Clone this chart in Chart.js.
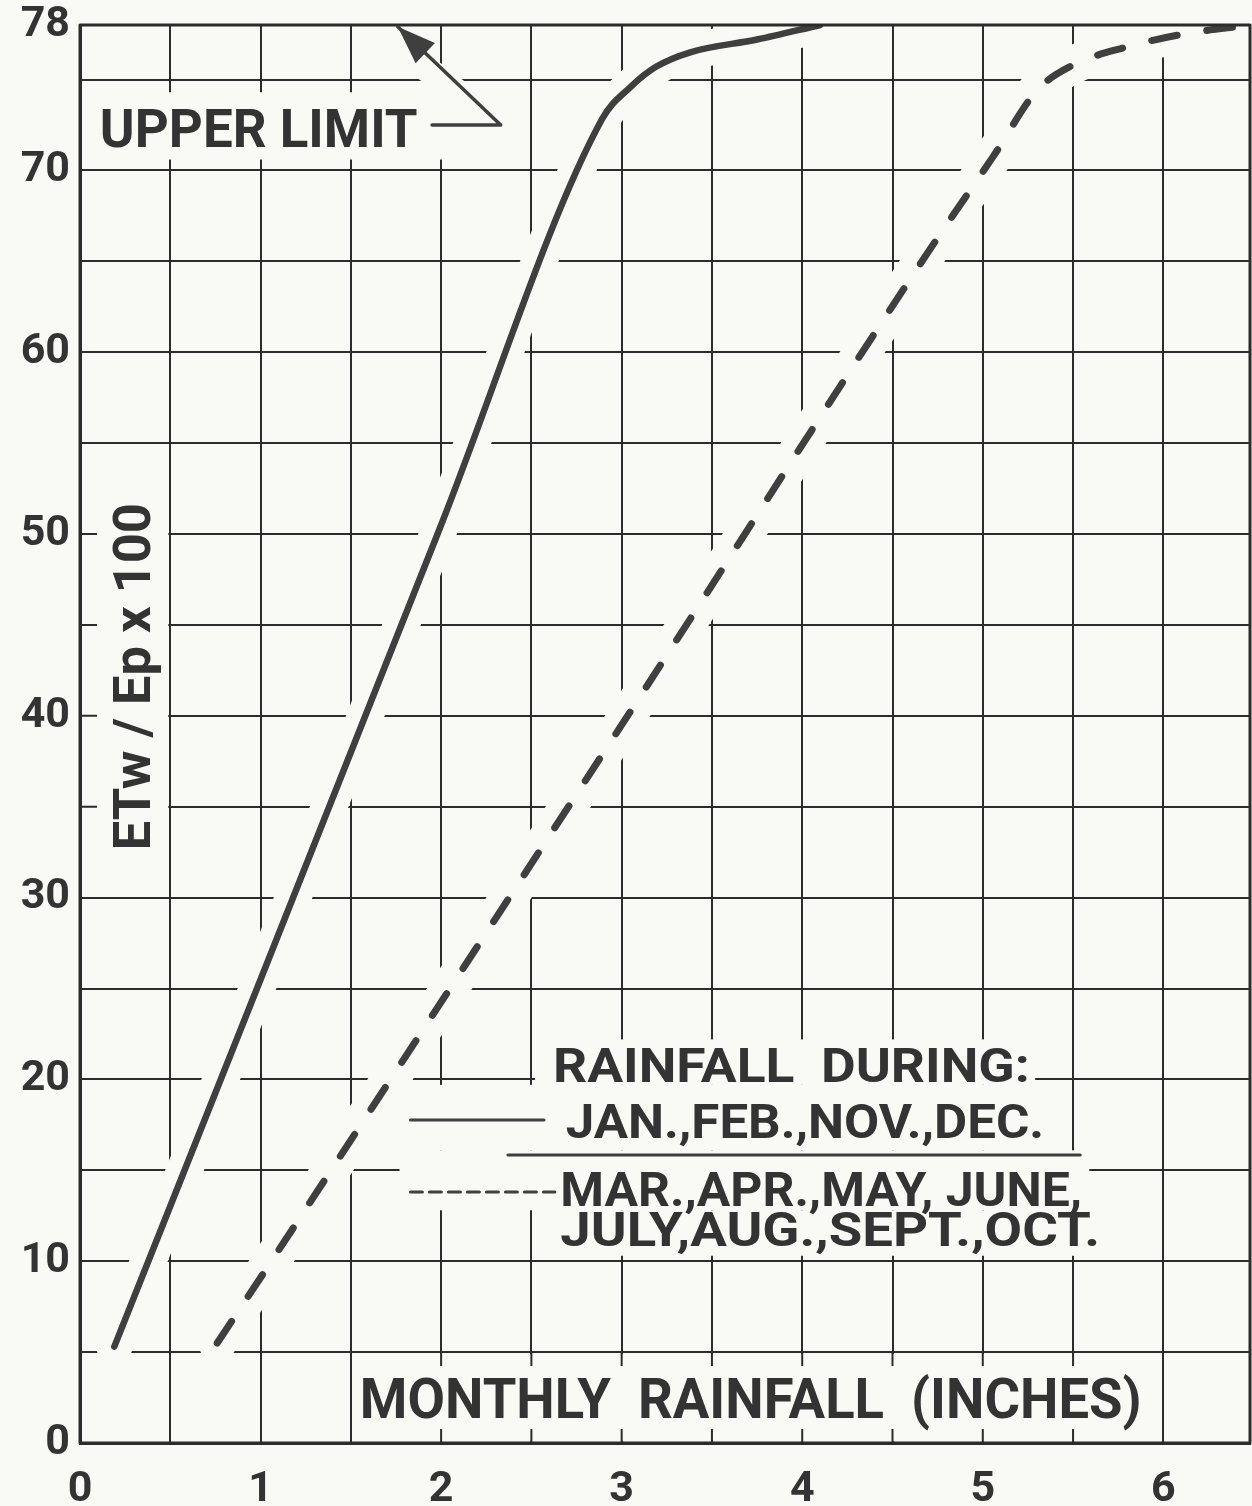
<!DOCTYPE html>
<html>
<head>
<meta charset="utf-8">
<title>ETw / Ep x 100 vs monthly rainfall</title>
<script src="https://cdn.jsdelivr.net/npm/chart.js@4.4.1/dist/chart.umd.min.js"></script>
<style>
  html, body { margin: 0; padding: 0; background: #f9f9f5; }
  #wrap { width: 1252px; height: 1506px; }
</style>
</head>
<body>
<div id="wrap"><canvas id="rainChart" width="1252" height="1506"></canvas></div>
<script>
// Jan, Feb, Nov, Dec curve (solid)
const winterRain = [0.19, 1.0, 2.0, 2.89, 3.05, 3.19, 3.38, 3.75, 4.1];
const winterRatio = [5.3, 25.5, 50.5, 72.8, 74.6, 75.7, 76.5, 77.2, 78];

// Mar - Oct curve (dashed)
const summerRain = [0.76, 1.06, 3.0, 4.71, 5.06, 5.3, 5.5, 5.8, 6.11, 6.48];
const summerRatio = [5.5, 10, 39.5, 65.7, 70.8, 74.4, 75.8, 76.8, 77.5, 78];

// axis ticks
const xTickValues = [0, 0.5, 1, 1.5, 2, 2.5, 3, 3.5, 4, 4.5, 5, 5.5, 6];
const xTickLabels = ['0', '', '1', '', '2', '', '3', '', '4', '', '5', '', '6'];
const yTickValues = [0, 5, 10, 15, 20, 25, 30, 35, 40, 45, 50, 55, 60, 65, 70, 75, 78];
const yTickLabels = ['0', '', '10', '', '20', '', '30', '', '40', '', '50', '', '60', '', '70', '', '78'];

const BG = '#f9f9f5';
const INK = '#2c2c2c';
const CURVE = '#3f3f3f';
const TEXT = '#333333';
const FAMILY = 'Roboto, "Liberation Sans", sans-serif';

// lettering on the sheet, placed in axis units (left, right, baseline)
const labels = [
  { text: 'UPPER LIMIT', x0: 0.11, x1: 1.87, y: 71.3, size: 54 },
  { text: 'MONTHLY  RAINFALL  (INCHES)', x0: 1.55, x1: 5.88, y: 1.38, size: 55 },
  { text: 'RAINFALL  DURING:', x0: 2.62, x1: 5.26, y: 19.86, size: 48 },
  { text: 'JAN.,FEB.,NOV.,DEC.', x0: 2.69, x1: 5.34, y: 16.78, size: 48 },
  { text: 'MAR.,APR.,MAY, JUNE,', x0: 2.66, x1: 5.55, y: 13.04, size: 48 },
  { text: 'JULY,AUG.,SEPT.,OCT.', x0: 2.66, x1: 5.65, y: 10.84, size: 48 }
];

// blank patches where the grid is left out
const blanks = [
  { x0: 1.5, x1: 6, y0: 0, y1: 5, inset: 2 },
  { x0: 0, x1: 0.5, y0: 30, y1: 55, inset: 2 },
  { x0: 0.03, x1: 2.02, y0: 70.6, y1: 74.3, inset: 0 },
  { x0: 2.52, x1: 5.29, y0: 19.7, y1: 22.2, inset: 0 },
  { x0: 1.77, x1: 5.43, y0: 16.1, y1: 19.7, inset: 0 },
  { x0: 1.77, x1: 5.59, y0: 12.8, y1: 16.1, inset: 0 },
  { x0: 2.57, x1: 5.67, y0: 10.3, y1: 12.8, inset: 0 }
];

function fitText(ctx, text, left, right, base, size, angle) {
  ctx.save();
  ctx.font = 'bold ' + size + 'px ' + FAMILY;
  ctx.fillStyle = TEXT;
  ctx.textBaseline = 'alphabetic';
  ctx.textAlign = 'left';
  const w = ctx.measureText(text).width;
  ctx.translate(left, base);
  if (angle) ctx.rotate(angle);
  ctx.scale(Math.abs(right - left) / w, 1);
  ctx.fillText(text, 0, 0);
  ctx.restore();
}

const sheetPlugin = {
  id: 'sheet',
  beforeDatasetsDraw(chart) {
    const { ctx, scales: { x, y } } = chart;
    ctx.save();
    ctx.fillStyle = BG;
    blanks.forEach(b => {
      const l = x.getPixelForValue(b.x0) + b.inset, r = x.getPixelForValue(b.x1) - b.inset;
      const t = y.getPixelForValue(b.y1) + b.inset, btm = y.getPixelForValue(b.y0) - b.inset;
      ctx.fillRect(l, t, r - l, btm - t);
    });
    // short ticks left inside the title boxes
    ctx.strokeStyle = INK;
    ctx.lineWidth = 2;
    ctx.beginPath();
    [2, 2.5, 3, 3.5, 4, 4.5, 5, 5.5].forEach(v => {
      const px = x.getPixelForValue(v);
      ctx.moveTo(px, y.getPixelForValue(0)); ctx.lineTo(px, y.getPixelForValue(0) - 14);
      ctx.moveTo(px, y.getPixelForValue(5)); ctx.lineTo(px, y.getPixelForValue(5) + 14);
    });
    [35, 40, 45, 50].forEach(v => {
      const py = y.getPixelForValue(v);
      ctx.moveTo(x.getPixelForValue(0), py); ctx.lineTo(x.getPixelForValue(0) + 17, py);
    });
    ctx.stroke();
    ctx.restore();
  },
  afterDatasetsDraw(chart) {
    const { ctx, chartArea: a, scales: { x, y } } = chart;
    const X = v => x.getPixelForValue(v), Y = v => y.getPixelForValue(v);

    // arrow from the UPPER LIMIT label to the top line
    const tail = [[1.95, 72.5], [2.33, 72.5], [1.76, 77.9]];
    ctx.save();
    ctx.lineCap = 'round';
    ctx.lineJoin = 'round';
    ctx.strokeStyle = BG;
    ctx.lineWidth = 26;
    ctx.beginPath();
    ctx.moveTo(X(tail[1][0]), Y(tail[1][1]));
    ctx.lineTo(X(tail[2][0]), Y(tail[2][1]) + 20);
    ctx.stroke();
    ctx.lineWidth = 16;
    ctx.beginPath();
    ctx.moveTo(X(tail[0][0]), Y(tail[0][1]));
    ctx.lineTo(X(tail[1][0]), Y(tail[1][1]));
    ctx.stroke();

    // frame
    ctx.strokeStyle = INK;
    ctx.lineWidth = 3;
    ctx.strokeRect(a.left, a.top, a.right - a.left, a.bottom - a.top);

    ctx.strokeStyle = CURVE;
    ctx.fillStyle = CURVE;
    ctx.lineWidth = 3.5;
    ctx.beginPath();
    ctx.moveTo(X(tail[0][0]), Y(tail[0][1]));
    ctx.lineTo(X(tail[1][0]), Y(tail[1][1]));
    ctx.lineTo(X(tail[2][0]), Y(tail[2][1]));
    ctx.stroke();
    const tx = X(tail[2][0]), ty = Y(tail[2][1]);
    const ang = Math.atan2(ty - Y(tail[1][1]), tx - X(tail[1][0]));
    ctx.beginPath();
    ctx.moveTo(tx, ty);
    ctx.lineTo(tx - 38 * Math.cos(ang) + 14 * Math.sin(ang), ty - 38 * Math.sin(ang) - 14 * Math.cos(ang));
    ctx.lineTo(tx - 38 * Math.cos(ang) - 14 * Math.sin(ang), ty - 38 * Math.sin(ang) + 14 * Math.cos(ang));
    ctx.closePath();
    ctx.fill();

    // legend samples and divider
    ctx.strokeStyle = CURVE;
    ctx.lineWidth = 3;
    ctx.beginPath();
    ctx.moveTo(X(1.83), Y(17.77)); ctx.lineTo(X(2.57), Y(17.77));
    ctx.stroke();
    ctx.setLineDash([12, 7]);
    ctx.beginPath();
    ctx.moveTo(X(1.83), Y(13.81)); ctx.lineTo(X(2.63), Y(13.81));
    ctx.stroke();
    ctx.setLineDash([]);
    ctx.lineWidth = 3;
    ctx.beginPath();
    ctx.moveTo(X(2.37), Y(15.84)); ctx.lineTo(X(5.54), Y(15.84));
    ctx.stroke();
    ctx.restore();

    labels.forEach(l => fitText(ctx, l.text, X(l.x0), X(l.x1), Y(l.y), l.size));
    // y axis title, reading upward
    fitText(ctx, 'ETw / Ep x 100', X(0.39), X(0.39) + (Y(32.6) - Y(51.7)), Y(32.6), 52, -Math.PI / 2);
  }
};

new Chart(document.getElementById('rainChart'), {
  type: 'line',
  data: {
    datasets: [
      {
        label: 'JAN., FEB., NOV., DEC.',
        data: winterRain.map((v, i) => ({ x: v, y: winterRatio[i] })),
        borderColor: CURVE,
        borderWidth: 6.5,
        borderCapStyle: 'round',
        borderJoinStyle: 'round',
        cubicInterpolationMode: 'monotone',
        pointRadius: 0,
        order: 0
      },
      {
        label: 'MAR. - OCT.',
        data: summerRain.map((v, i) => ({ x: v, y: summerRatio[i] })),
        borderColor: CURVE,
        borderWidth: 7,
        borderDash: [26, 30],
        borderCapStyle: 'round',
        borderJoinStyle: 'round',
        cubicInterpolationMode: 'monotone',
        pointRadius: 0,
        order: 0
      },
      {
        label: 'gap1',
        data: winterRain.map((v, i) => ({ x: v, y: winterRatio[i] })),
        borderColor: BG,
        borderWidth: 36,
        borderCapStyle: 'round',
        cubicInterpolationMode: 'monotone',
        pointRadius: 0,
        order: 1
      },
      {
        label: 'gap2',
        data: summerRain.map((v, i) => ({ x: v, y: summerRatio[i] })),
        borderColor: BG,
        borderWidth: 38,
        borderCapStyle: 'round',
        cubicInterpolationMode: 'monotone',
        pointRadius: 0,
        order: 1
      }
    ]
  },
  options: {
    responsive: false,
    devicePixelRatio: 1,
    animation: false,
    layout: { padding: { top: 25, right: 2, left: 0, bottom: 0 } },
    plugins: { legend: { display: false }, tooltip: { enabled: false } },
    scales: {
      x: {
        type: 'linear',
        min: 0,
        max: 6.48,
        afterBuildTicks: s => { s.ticks = xTickValues.map(v => ({ value: v })); },
        afterFit: s => { s.height = 63; },
        ticks: {
          autoSkip: false,
          maxRotation: 0,
          padding: 26,
          color: TEXT,
          font: { family: FAMILY, weight: 'bold', size: 43, lineHeight: 1 },
          callback: (v, i) => xTickLabels[i]
        },
        grid: { color: INK, lineWidth: 2, drawTicks: false },
        border: { color: INK, width: 3 }
      },
      y: {
        min: 0,
        max: 78,
        afterBuildTicks: s => { s.ticks = yTickValues.map(v => ({ value: v })); },
        afterFit: s => { s.width = 80; },
        ticks: {
          autoSkip: false,
          padding: 10,
          color: TEXT,
          font: { family: FAMILY, weight: 'bold', size: 43, lineHeight: 0.6 },
          callback: (v, i) => yTickLabels[i]
        },
        grid: { color: INK, lineWidth: 2, drawTicks: false },
        border: { color: INK, width: 3 }
      }
    }
  },
  plugins: [sheetPlugin]
});
</script>
</body>
</html>
